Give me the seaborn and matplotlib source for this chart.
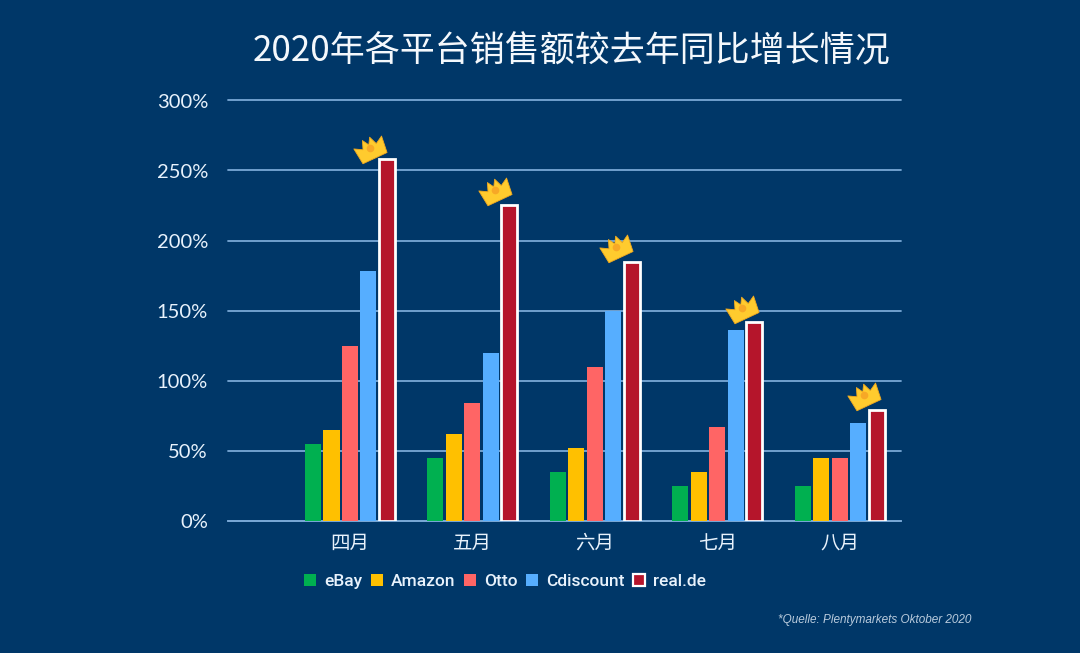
import matplotlib
matplotlib.use("Agg")
import matplotlib.pyplot as plt
from matplotlib.markers import MarkerStyle
from matplotlib.path import Path
from matplotlib.transforms import Affine2D, offset_copy
import pandas as pd
import seaborn as sns

months = ["四月", "五月", "六月", "七月", "八月"]
ebay = [55, 45, 35, 25, 25]
amazon = [65, 62, 52, 35, 45]
otto = [125, 84, 110, 67, 45]
cdiscount = [178, 120, 150, 136, 70]
real_de = [258, 225, 185, 142, 79]
series_names = ["eBay", "Amazon", "Otto", "Cdiscount", "real.de"]
series_colors = ["#00B050", "#FFC000", "#FF6565", "#56AEFF", "#B5152B"]
crown_offsets = [(-17, 11), (-14, 15), (-16, 15), (-12, 14), (-13, 15)]

BG = "#003768"
GRID = "#79A8D6"
TEXT = "#E8F2FC"

df = pd.DataFrame({"month": months, "eBay": ebay, "Amazon": amazon, "Otto": otto,
                   "Cdiscount": cdiscount, "real.de": real_de})
long_df = df.melt(id_vars="month", var_name="platform", value_name="growth")

sns.set_theme(style="white")
plt.rcParams["font.family"] = ["Noto Sans CJK SC", "DejaVu Sans"]

fig = plt.figure(figsize=(10.8, 6.53), dpi=100, facecolor=BG)
ax = fig.add_axes([228 / 1080, 1 - 520.5 / 653, (901 - 228) / 1080, 420 / 653], facecolor=BG)

sns.barplot(data=long_df, x="month", y="growth", hue="platform", hue_order=series_names,
            palette=series_colors, order=months, width=0.755, gap=0.13, saturation=1,
            ax=ax, zorder=3, linewidth=0)

ax.set_xlim(-0.996, 4.5)
ax.set_ylim(0, 300)
ax.set_yticks([0, 50, 100, 150, 200, 250, 300])
ax.set_yticklabels([f"{v}%" for v in [0, 50, 100, 150, 200, 250, 300]])
ax.set_xlabel("")
ax.set_ylabel("")
ax.grid(axis="y", color=GRID, linewidth=1.3, zorder=0, clip_on=False)
ax.set_axisbelow(True)
for side in ["top", "right", "left"]:
    ax.spines[side].set_visible(False)
ax.spines["bottom"].set_color(GRID)
ax.spines["bottom"].set_linewidth(1.3)
ax.tick_params(axis="y", length=0, pad=14.4, labelsize=13)
ax.tick_params(axis="x", length=0, pad=9, labelsize=14)
for label in ax.get_yticklabels():
    label.set_family("Lato")
    label.set_color(TEXT)
    label.set_fontsize(14.5)
for label in ax.get_xticklabels():
    label.set_color(TEXT)

real_container = ax.containers[4]
for bar in real_container:
    bar.set_edgecolor("white")
    bar.set_linewidth(2)

crown_path = Path(
    [(-1, -0.8), (-1.15, 0.5), (-0.55, 0.15), (-0.3, 0.8), (0, 0.3), (0.3, 0.8),
     (0.55, 0.15), (1.15, 0.5), (1, -0.8), (-1, -0.8)],
    closed=True,
)
crown_marker = MarkerStyle(crown_path, transform=Affine2D().rotate_deg(25))
for bar, value, (dx, dy) in zip(real_container, real_de, crown_offsets):
    trans = offset_copy(ax.transData, fig=fig, x=dx, y=dy, units="dots")
    cx = bar.get_x() + bar.get_width() / 2
    ax.plot([cx], [value], marker=crown_marker, markersize=22, color="#FFCB2E",
            markeredgecolor="#F2A91E", markeredgewidth=0.6, transform=trans,
            clip_on=False, zorder=5, linestyle="none")
    ax.plot([cx], [value], marker="o", markersize=5.5, color="#F7A826",
            markeredgewidth=0, transform=trans, clip_on=False, zorder=6, linestyle="none")

sns.move_legend(ax, "lower left", bbox_to_anchor=(304 / 1080, 1 - 589 / 653),
                bbox_transform=fig.transFigure, ncol=5, frameon=False, title=None,
                prop={"family": "Roboto", "weight": "medium", "size": 12.5},
                handlelength=0.7, handleheight=0.7, handletextpad=0.45,
                columnspacing=0.5, borderpad=0, borderaxespad=0, labelcolor=TEXT)
legend = ax.get_legend()
real_handle = legend.legend_handles[4]
real_handle.set_edgecolor("white")
real_handle.set_linewidth(1.6)

fig.text(572 / 1080, 1 - 51 / 653, "2020年各平台销售额较去年同比增长情况", ha="center", va="center",
         fontsize=25.2, color="#F4F8FC", fontweight="light")
fig.text(971 / 1080, 1 - 620 / 653, "*Quelle: Plentymarkets Oktober 2020", ha="right", va="center",
         fontsize=8.5, color="#B9CBDD", style="italic", family="Liberation Sans")

fig.savefig("out.png", dpi=100, facecolor=BG)
